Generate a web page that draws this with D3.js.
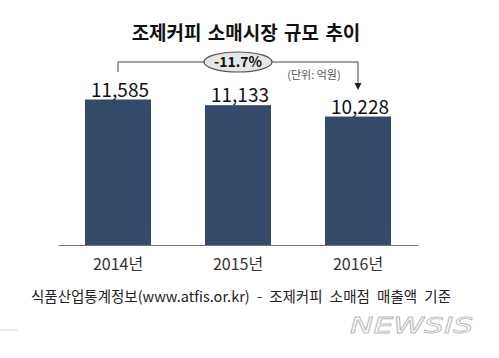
<!DOCTYPE html>
<html><head><meta charset="utf-8">
<script src="https://cdn.jsdelivr.net/npm/d3@7"></script>
<style>body{margin:0;background:#fff;}svg{display:block;font-family:"Noto Sans CJK KR","Noto Sans",sans-serif;}</style>
</head><body>
<script>
const categories = ["2014년", "2015년", "2016년"];
const values = [11585, 11133, 10228];
const valueLabels = ["11,585", "11,133", "10,228"];
const title = "조제커피 소매시장 규모 추이";
const changeLabel = "-11.7%";
const unitLabel = "(단위: 억원)";
const sourceLabel = "식품산업통계정보(www.atfis.or.kr) - 조제커피 소매점 매출액 기준";

const W = 499, H = 358;
const svg = d3.select("body").append("svg").attr("width", W).attr("height", H);

const x = d3.scaleBand().domain(categories).range([58, 418]).paddingInner(0.45).paddingOuter(0.225);
const y = d3.scaleLinear().domain([0, 11585]).range([245, 99.5]);

// title
svg.append("text").attr("x", 246).attr("y", 40).attr("text-anchor", "middle")
  .attr("font-size", 19).attr("font-weight", "bold").attr("word-spacing", 2).attr("fill", "#111").text(title);

// bars
svg.selectAll("rect.bar").data(values).join("rect").attr("class", "bar")
  .attr("x", (d, i) => x(categories[i])).attr("width", x.bandwidth())
  .attr("y", d => y(d)).attr("height", d => y(0) - y(d)).attr("fill", "#35496b");

// value labels
svg.selectAll("text.val").data(values).join("text").attr("class", "val")
  .attr("x", (d, i) => x(categories[i]) + x.bandwidth() / 2 + 2).attr("y", d => y(d) - 3)
  .attr("text-anchor", "middle").attr("font-size", 19).attr("fill", "#111")
  .text((d, i) => valueLabels[i]);

// baseline axis
const axis = d3.axisBottom(x).tickSize(0).tickPadding(14);
const gx = svg.append("g").attr("transform", `translate(0,${y(0)})`).call(axis);
gx.select(".domain").attr("stroke", "#777").attr("stroke-width", 1);
gx.selectAll("text").attr("font-size", 16).attr("fill", "#333")
  .attr("font-family", "'Noto Sans CJK KR','Noto Sans',sans-serif");

// bracket
const x0 = x(categories[0]) + x.bandwidth() / 2;
const x2 = x(categories[2]) + x.bandwidth() / 2;
const by = 62;
svg.append("path").attr("d", `M${x0},72 V${by} H${x2} V86`)
  .attr("fill", "none").attr("stroke", "#444").attr("stroke-width", 1);
svg.append("path").attr("d", `M${x2-3.5},83 L${x2+3.5},83 L${x2},90 Z`).attr("fill", "#222");
const ex = 238;
svg.append("ellipse").attr("cx", ex).attr("cy", by).attr("rx", 34).attr("ry", 10)
  .attr("fill", "#e6e6e6").attr("stroke", "#555").attr("stroke-width", 1.2);
svg.append("text").attr("x", ex).attr("y", by + 5).attr("text-anchor", "middle")
  .attr("font-size", 14).attr("font-weight", "bold").attr("fill", "#111").text(changeLabel);

// unit
svg.append("text").attr("x", 314).attr("y", 79).attr("text-anchor", "middle")
  .attr("font-size", 11).attr("fill", "#555").text(unitLabel);

// source
svg.append("text").attr("x", 241).attr("y", 302).attr("text-anchor", "middle")
  .attr("font-size", 14.5).attr("word-spacing", 4).attr("fill", "#222").text(sourceLabel);

// watermark
svg.append("text").attr("x", 350).attr("y", 333)
  .attr("font-size", 21).attr("font-style", "italic").attr("font-family", "'DejaVu Sans',sans-serif")
  .attr("textLength", 123).attr("lengthAdjust", "spacingAndGlyphs")
  .attr("fill", "#fff").attr("stroke", "#bbb").attr("stroke-width", 0.8)
  .text("NEWSIS");
svg.append("line").attr("x1", 0).attr("x2", 18).attr("y1", 330).attr("y2", 330).attr("stroke", "#ddd");
</script>
</body></html>
